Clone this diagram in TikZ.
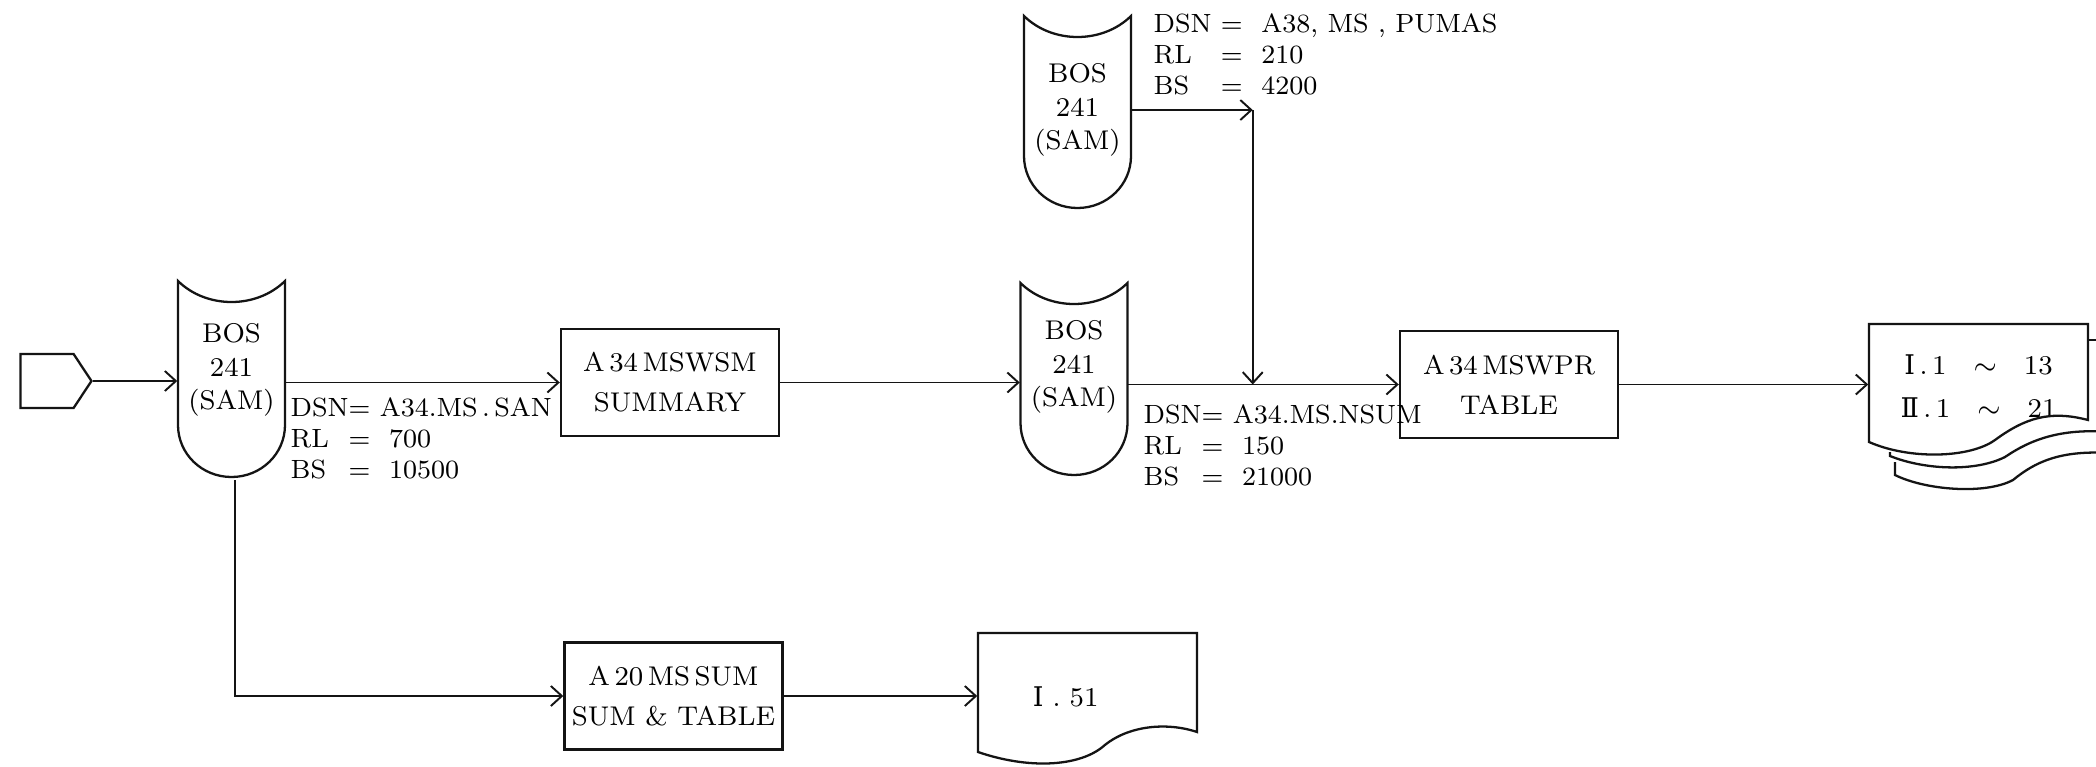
\documentclass[tikz,border=0pt]{standalone}
\usepackage{fontspec}
\usepackage{tikz}
\usetikzlibrary{positioning,calc,arrows.meta,shapes.symbols}
\newfontfamily\numfont{DejaVu Serif}
\definecolor{ink}{HTML}{141414}
\newcommand{\basefont}{\fontsize{7.7}{8.8}\selectfont}
\tikzset{
  % --- flow lines ---
  flow/.style={-{Straight Barb[length=1.1mm,width=2mm]}, line width=0.55pt,
               draw=ink},
  % --- program boxes ---
  prog/.style={draw=ink, line width=0.65pt, minimum width=2.18cm,
               minimum height=1.07cm, align=center, inner sep=2pt,
               font=\basefont\addfontfeatures{LetterSpace=5}},
  % --- tape files (outline drawn after the nodes) ---
  tape/.style={minimum width=1.07cm, align=center, inner sep=0pt,
               font=\basefont\addfontfeatures{LetterSpace=8}},
  tapeline/.style={draw=ink, line width=0.65pt},
  % --- printed reports ---
  report/.style={minimum width=2.19cm, inner sep=0pt,
                 font=\basefont\addfontfeatures{LetterSpace=5}},
  % --- terminal ---
  term/.style={signal, signal to=east, signal pointer angle=113, draw=ink,
               line width=0.65pt, minimum width=0.71cm, minimum height=0.54cm,
               inner sep=0pt},
  dsn/.style={anchor=north west, inner sep=0pt,
              font=\fontsize{7.5}{8.8}\selectfont},
}
\newcommand{\dsnlist}[4]{\begin{tabular}{@{}l@{}l@{\ }l@{}}
  #1 & = & #2\\ RL & = & #3\\ BS & = & #4\end{tabular}}

\begin{document}
\begin{tikzpicture}[x=0.01cm, y=-0.01cm, font=\basefont]
  \fill[white] (0,0) rectangle (2096,766);
  \useasboundingbox (0,0) rectangle (2096,766);

  % --- main row ---
  \node[term] (start) at (47,381) {};
  \node[tape] (t1) at (231.5,370) {BOS\\[0.8pt]241\\[0.8pt](SAM)};
  \node[prog] (sum) at (670,382.5) {A\,34\,MSWSM\\[2.6pt]SUMMARY};
  \node[tape] (t2) at (1074,367) {BOS\\[0.8pt]241\\[0.8pt](SAM)};
  \node[prog] (tab) at (1509,384.5) {A\,34\,MSWPR\\[2.6pt]TABLE};
  \node[report, align=center] (rep) at (1978.5,386)
        {{\numfont Ⅰ}\,.\,1\quad$\sim$\quad 13\\[3.4pt]{\numfont Ⅱ}\,.\,1\quad$\sim$\quad 21};

  % --- master file (top) ---
  \node[tape] (t3) at (1077.5,110) {BOS\\[0.8pt]241\\[0.8pt](SAM)};
  \coordinate (jn) at ($(t3.east)+(121,0)$);

  % --- lower row ---
  \node[prog] (a20) at (673.5,696) {A\,20\,MS\,SUM\\[2.6pt]SUM \& TABLE};
  \node[report, text width=1.09cm, inner xsep=0.55cm, align=left] (r51)
        at (1087.5,697) {{\numfont Ⅰ}\ .\ 51};

  % --- data set notes ---
  \node[dsn] (d1) at (290,394) {\dsnlist{DSN}{A34.MS\,.\,SAN}{\ 700}{\ 10500}};
  \node[dsn] (d2) at (1143,401) {\dsnlist{DSN}{A34.MS.NSUM}{\ 150}{\ 21000}};
  \node[dsn] (d3) at (1153,10) {\dsnlist{DSN\ }{\ A38, MS , PUMAS}{\ 210}{\ 4200}};

  % --- tape outlines ---
  \foreach \t/\top/\bot in {t1/-89/107, t2/-84/108, t3/-94/98}
    \draw[tapeline, shift={(\t)}] (-53.5,\top)
      .. controls (-25,{\top+28}) and (25,{\top+28}) .. (53.5,\top)
      -- (53.5,{\bot-52}) .. controls (53.5,{\bot-23}) and (29.5,\bot) .. (0,\bot)
      .. controls (-29.5,\bot) and (-53.5,{\bot-23}) .. (-53.5,{\bot-52}) -- cycle;

  % --- report outlines ---
  \draw[tapeline, shift={(r51)}] (-109.5,-64) -- (109.5,-64) -- (109.5,35)
    .. controls (80,25) and (40,28) .. (15,50)
    .. controls (-10,70) and (-60,72) .. (-109.5,55) -- cycle;
  \draw[tapeline, shift={(rep)}] (-109.5,-62) -- (109.5,-62) -- (109.5,34)
    .. controls (71.5,24) and (46.5,32) .. (16.5,54)
    .. controls (-8.5,72) and (-68.5,74) .. (-109.5,56) -- cycle;
  \draw[tapeline, shift={(rep)}] (109.5,-46) -- (131.5,-46);
  \draw[tapeline, shift={(rep)}] (-88.5,66) -- (-88.5,70)
    .. controls (-53.5,84) and (-3.5,86) .. (26.5,71)
    .. controls (51.5,54) and (81.5,42) .. (131.5,46);
  \draw[tapeline, shift={(rep)}] (-83.5,76) -- (-83.5,89)
    .. controls (-53.5,104) and (6.5,109) .. (34.5,94)
    .. controls (56.5,76) and (81.5,64) .. (131.5,67);

  % --- flow ---
  \draw[flow] (start) -- (start -| t1.west);
  \draw[flow] (t1.east |- sum.west) -- (sum.west);
  \draw[flow] (sum.east) -- (sum.east -| t2.west);
  \draw[flow] (t3.east) -- (jn);
  \draw[flow] (jn) -- (jn |- tab.west);
  \draw[flow] (t2.east |- tab.west) -- (tab.west);
  \draw[flow] (tab.east) -- (tab.east -| rep.west);
  \draw[flow] ($(t1)+(3.5,110)$) |- (a20.west);
  \draw[flow] (a20.east) -- (a20.east -| r51.west);
\end{tikzpicture}
\end{document}
